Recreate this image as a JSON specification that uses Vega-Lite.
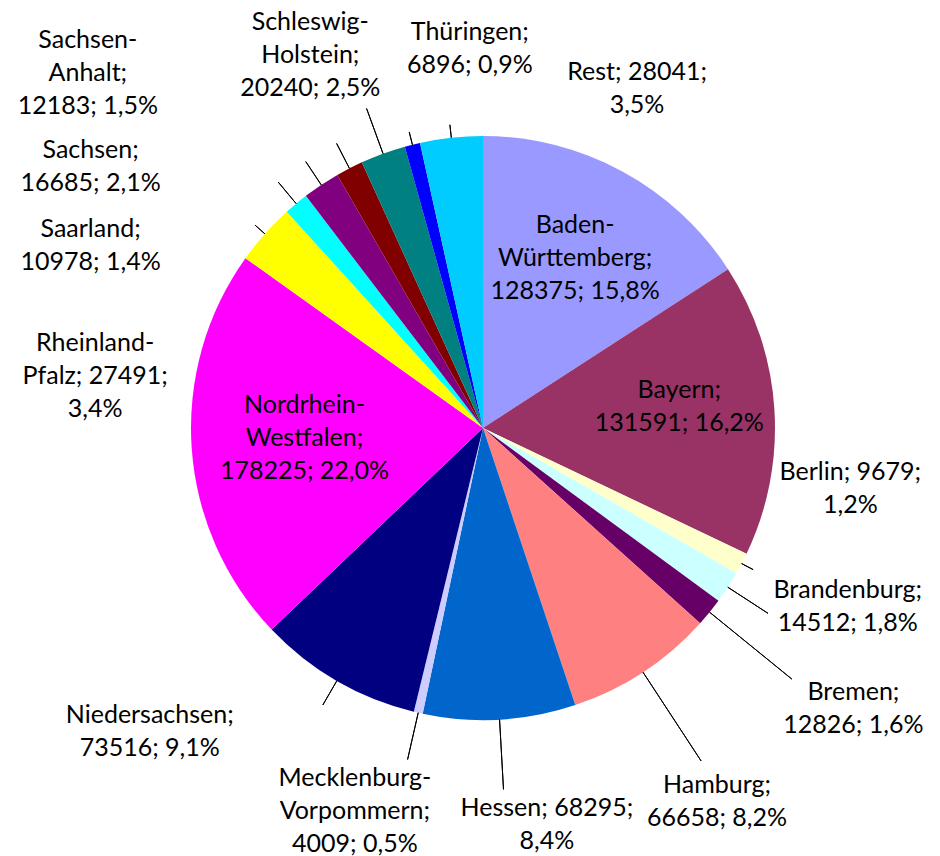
{
  "$schema": "https://vega.github.io/schema/vega-lite/v6.json",
  "width": 914,
  "height": 856,
  "autosize": {"type": "none"},
  "padding": {"left": 26, "right": 0, "top": 0, "bottom": 0},
  "background": "white",
  "config": {
    "view": {"stroke": null},
    "text": {"font": "Lato", "fontSize": 25, "lineHeight": 33, "lineBreak": "\n", "align": "center", "baseline": "middle", "color": "black"}
  },
  "data": {
    "values": [
      {"i": 1, "name": "Baden-Württemberg", "value": 128375, "label": "Baden-\nWürttemberg;\n128375; 15,8%"},
      {"i": 2, "name": "Bayern", "value": 131591, "label": "Bayern;\n131591; 16,2%"},
      {"i": 3, "name": "Berlin", "value": 9679, "label": "Berlin; 9679;\n1,2%"},
      {"i": 4, "name": "Brandenburg", "value": 14512, "label": "Brandenburg;\n14512; 1,8%"},
      {"i": 5, "name": "Bremen", "value": 12826, "label": "Bremen;\n12826; 1,6%"},
      {"i": 6, "name": "Hamburg", "value": 66658, "label": "Hamburg;\n66658; 8,2%"},
      {"i": 7, "name": "Hessen", "value": 68295, "label": "Hessen; 68295;\n8,4%"},
      {"i": 8, "name": "Mecklenburg-Vorpommern", "value": 4009, "label": "Mecklenburg-\nVorpommern;\n4009; 0,5%"},
      {"i": 9, "name": "Niedersachsen", "value": 73516, "label": "Niedersachsen;\n73516; 9,1%"},
      {"i": 10, "name": "Nordrhein-Westfalen", "value": 178225, "label": "Nordrhein-\nWestfalen;\n178225; 22,0%"},
      {"i": 11, "name": "Rheinland-Pfalz", "value": 27491, "label": "Rheinland-\nPfalz; 27491;\n3,4%"},
      {"i": 12, "name": "Saarland", "value": 10978, "label": "Saarland;\n10978; 1,4%"},
      {"i": 13, "name": "Sachsen", "value": 16685, "label": "Sachsen;\n16685; 2,1%"},
      {"i": 14, "name": "Sachsen-Anhalt", "value": 12183, "label": "Sachsen-\nAnhalt;\n12183; 1,5%"},
      {"i": 15, "name": "Schleswig-Holstein", "value": 20240, "label": "Schleswig-\nHolstein;\n20240; 2,5%"},
      {"i": 16, "name": "Thüringen", "value": 6896, "label": "Thüringen;\n6896; 0,9%"},
      {"i": 17, "name": "Rest", "value": 28041, "label": "Rest; 28041;\n3,5%"}
    ]
  },
  "encoding": {
    "theta": {"field": "value", "type": "quantitative", "stack": true},
    "order": {"field": "i", "type": "quantitative"}
  },
  "layer": [
    {
      "mark": {"type": "arc", "radius": 292},
      "encoding": {
        "color": {
          "field": "name", "type": "nominal", "legend": null,
          "scale": {
            "domain": ["Baden-Württemberg", "Bayern", "Berlin", "Brandenburg", "Bremen", "Hamburg", "Hessen", "Mecklenburg-Vorpommern", "Niedersachsen", "Nordrhein-Westfalen", "Rheinland-Pfalz", "Saarland", "Sachsen", "Sachsen-Anhalt", "Schleswig-Holstein", "Thüringen", "Rest"],
            "range": ["#9999FF", "#993366", "#FFFFCC", "#CCFFFF", "#660066", "#FF8080", "#0066CC", "#CCCCFF", "#000080", "#FF00FF", "#FFFF00", "#00FFFF", "#800080", "#800000", "#008080", "#0000FF", "#00CCFF"]
          }
        }
      }
    },
    {
      "mark": {"type": "arc", "radius": 305, "radius2": 292, "padAngle": 3, "fill": "transparent", "stroke": "black", "strokeWidth": 1},
      "encoding": {"strokeOpacity": {"value": 0, "condition": {"test": "indexof(['Berlin', 'Rheinland-Pfalz', 'Thüringen', 'Rest'], datum.name) >= 0", "value": 1}}}
    },
    {
      "mark": {"type": "arc", "radius": 320, "radius2": 292, "padAngle": 3, "fill": "transparent", "stroke": "black", "strokeWidth": 1},
      "encoding": {"strokeOpacity": {"value": 0, "condition": {"test": "indexof(['Niedersachsen', 'Sachsen-Anhalt', 'Sachsen', 'Saarland'], datum.name) >= 0", "value": 1}}}
    },
    {
      "mark": {"type": "arc", "radius": 340, "radius2": 292, "padAngle": 3, "fill": "transparent", "stroke": "black", "strokeWidth": 1},
      "encoding": {"strokeOpacity": {"value": 0, "condition": {"test": "indexof(['Mecklenburg-Vorpommern', 'Schleswig-Holstein', 'Brandenburg'], datum.name) >= 0", "value": 1}}}
    },
    {
      "mark": {"type": "arc", "radius": 362, "radius2": 292, "padAngle": 3, "fill": "transparent", "stroke": "black", "strokeWidth": 1},
      "encoding": {"strokeOpacity": {"value": 0, "condition": {"test": "datum.name === 'Hessen'", "value": 1}}}
    },
    {
      "mark": {"type": "arc", "radius": 398, "radius2": 292, "padAngle": 3, "fill": "transparent", "stroke": "black", "strokeWidth": 1},
      "encoding": {"strokeOpacity": {"value": 0, "condition": {"test": "indexof(['Bremen', 'Hamburg'], datum.name) >= 0", "value": 1}}}
    },
    {
      "mark": {"type": "text", "radius": 223, "thetaOffset": -0.072},
      "encoding": {"text": {"value": "", "condition": {"test": "datum.name === 'Baden-Württemberg'", "field": "label", "type": "nominal"}}}
    },
    {
      "mark": {"type": "text", "radius": 200, "thetaOffset": -0.128},
      "encoding": {"text": {"value": "", "condition": {"test": "datum.name === 'Bayern'", "field": "label", "type": "nominal"}}}
    },
    {
      "mark": {"type": "text", "radius": 180, "thetaOffset": 0.199},
      "encoding": {"text": {"value": "", "condition": {"test": "datum.name === 'Nordrhein-Westfalen'", "field": "label", "type": "nominal"}}}
    },
    {
      "mark": {"type": "text", "radius": 370, "thetaOffset": -0.363},
      "encoding": {"text": {"value": "", "condition": {"test": "datum.name === 'Berlin'", "field": "label", "type": "nominal"}}}
    },
    {
      "mark": {"type": "text", "radius": 399, "thetaOffset": -0.159},
      "encoding": {"text": {"value": "", "condition": {"test": "datum.name === 'Brandenburg'", "field": "label", "type": "nominal"}}}
    },
    {
      "mark": {"type": "text", "radius": 455, "thetaOffset": -0.063},
      "encoding": {"text": {"value": "", "condition": {"test": "datum.name === 'Bremen'", "field": "label", "type": "nominal"}}}
    },
    {
      "mark": {"type": "text", "radius": 427, "thetaOffset": 0.0},
      "encoding": {"text": {"value": "", "condition": {"test": "datum.name === 'Hamburg'", "field": "label", "type": "nominal"}}}
    },
    {
      "mark": {"type": "text", "radius": 385, "thetaOffset": -0.11},
      "encoding": {"text": {"value": "", "condition": {"test": "datum.name === 'Hessen'", "field": "label", "type": "nominal"}}}
    },
    {
      "mark": {"type": "text", "radius": 373, "thetaOffset": 0.127},
      "encoding": {"text": {"value": "", "condition": {"test": "datum.name === 'Mecklenburg-Vorpommern'", "field": "label", "type": "nominal"}}}
    },
    {
      "mark": {"type": "text", "radius": 440, "thetaOffset": 0.335},
      "encoding": {"text": {"value": "", "condition": {"test": "datum.name === 'Niedersachsen'", "field": "label", "type": "nominal"}}}
    },
    {
      "mark": {"type": "text", "radius": 397, "thetaOffset": -0.512},
      "encoding": {"text": {"value": "", "condition": {"test": "datum.name === 'Rheinland-Pfalz'", "field": "label", "type": "nominal"}}}
    },
    {
      "mark": {"type": "text", "radius": 440, "thetaOffset": -0.407},
      "encoding": {"text": {"value": "", "condition": {"test": "datum.name === 'Saarland'", "field": "label", "type": "nominal"}}}
    },
    {
      "mark": {"type": "text", "radius": 481, "thetaOffset": -0.367},
      "encoding": {"text": {"value": "", "condition": {"test": "datum.name === 'Sachsen'", "field": "label", "type": "nominal"}}}
    },
    {
      "mark": {"type": "text", "radius": 554, "thetaOffset": -0.319},
      "encoding": {"text": {"value": "", "condition": {"test": "datum.name === 'Sachsen-Anhalt'", "field": "label", "type": "nominal"}}}
    },
    {
      "mark": {"type": "text", "radius": 441, "thetaOffset": -0.053},
      "encoding": {"text": {"value": "", "condition": {"test": "datum.name === 'Schleswig-Holstein'", "field": "label", "type": "nominal"}}}
    },
    {
      "mark": {"type": "text", "radius": 396, "thetaOffset": 0.211},
      "encoding": {"text": {"value": "", "condition": {"test": "datum.name === 'Thüringen'", "field": "label", "type": "nominal"}}}
    },
    {
      "mark": {"type": "text", "radius": 388, "thetaOffset": 0.517},
      "encoding": {"text": {"value": "", "condition": {"test": "datum.name === 'Rest'", "field": "label", "type": "nominal"}}}
    }
  ]
}
